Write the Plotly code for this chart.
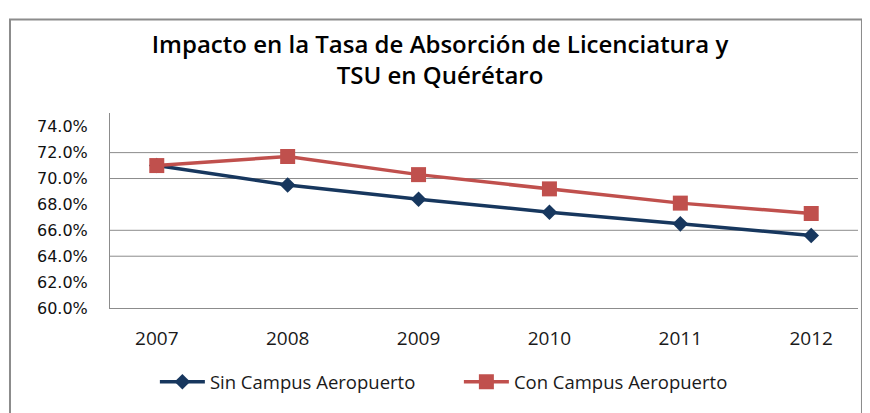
import plotly.graph_objects as go

years = ["2007", "2008", "2009", "2010", "2011", "2012"]
sin_campus = [0.710, 0.695, 0.684, 0.674, 0.665, 0.656]
con_campus = [0.710, 0.717, 0.703, 0.692, 0.681, 0.673]
y_ticks = [0.60, 0.62, 0.64, 0.66, 0.68, 0.70, 0.72, 0.74]
grid_levels = [0.64, 0.66, 0.70, 0.72]
title_text = "Impacto en la Tasa de Absorción de Licenciatura y<br>TSU en Quérétaro"

fig = go.Figure()
fig.add_trace(go.Scatter(
    x=years, y=sin_campus, name="Sin Campus Aeropuerto", mode="lines+markers",
    line=dict(color="#17375E", width=3.5),
    marker=dict(symbol="diamond", size=12, color="#17375E"),
))
fig.add_trace(go.Scatter(
    x=years, y=con_campus, name="Con Campus Aeropuerto", mode="lines+markers",
    line=dict(color="#C0504D", width=3.5),
    marker=dict(symbol="square", size=15, color="#C0504D"),
))

for g in grid_levels:
    fig.add_shape(type="line", xref="paper", yref="y", x0=0, x1=1, y0=g, y1=g,
                  line=dict(color="#8C8C8C", width=1), layer="below")

fig.add_shape(type="rect", xref="paper", yref="paper", x0=-0.1337, x1=1.0053,
              y0=-0.6, y1=1.480, line=dict(color="#8C8C8C", width=2), layer="below")

fig.update_layout(
    width=862, height=405,
    margin=dict(l=102, r=12, t=105, b=98),
    paper_bgcolor="white", plot_bgcolor="white",
    title=dict(
        text=title_text, x=(440 - 8) / 862, xanchor="center",
        y=(405 - 45) / 405, yanchor="middle",
        font=dict(family="Open Sans", size=24, color="#000000", weight=600),
    ),
    xaxis=dict(
        type="category", showgrid=False, showline=True, linecolor="#8C8C8C", linewidth=1,
        tickfont=dict(family="Open Sans", size=19, color="#1a1a1a"), ticks="",
        ticklabelstandoff=13,
    ),
    yaxis=dict(
        range=[0.60, 0.7506], tickvals=y_ticks, tickformat=".1%", showgrid=False,
        showline=True, linecolor="#8C8C8C", linewidth=1, ticks="", zeroline=False,
        ticklabelstandoff=18,
        tickfont=dict(family="DejaVu Sans", size=16, color="#111111"),
    ),
    legend=dict(
        orientation="h", x=0.060, xanchor="left", y=-0.381, yanchor="middle",
        font=dict(family="Open Sans", size=18.5, color="#1a1a1a"),
        entrywidth=244, entrywidthmode="pixels", itemwidth=45,
        traceorder="normal",
    ),
    showlegend=True,
)

fig.write_html("out.html")
